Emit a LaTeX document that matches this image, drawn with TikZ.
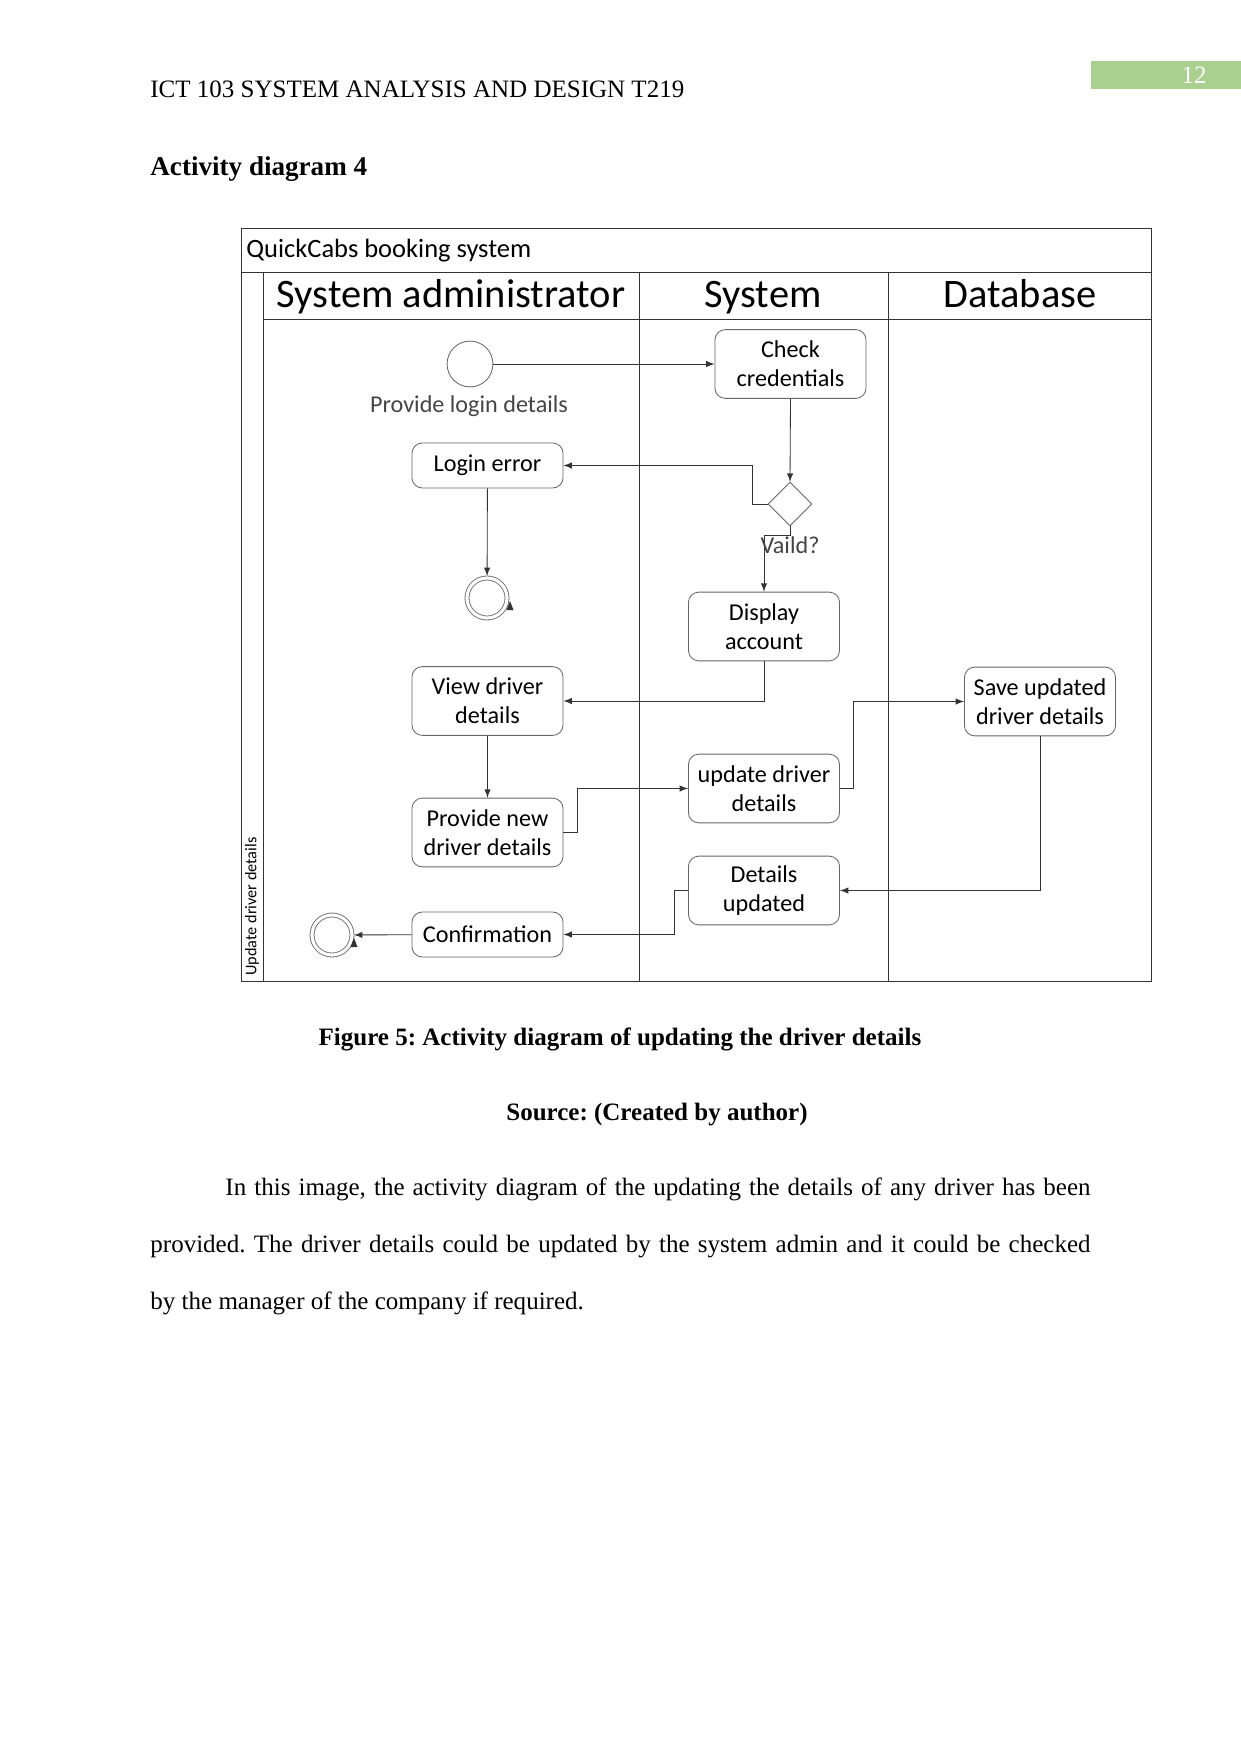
\documentclass[tikz,border=0pt]{standalone}
\usepackage{fontspec}
\setmainfont{Liberation Serif}
\newfontfamily\diagfont{Carlito}
\usetikzlibrary{shapes.geometric,positioning}
\definecolor{pagegreen}{HTML}{A9D08E}
\definecolor{boxline}{HTML}{666666}
\definecolor{laneline}{HTML}{333333}
\definecolor{notetext}{HTML}{444444}
\frenchspacing

\begin{document}
\begin{tikzpicture}[x=0.4797pt,y=-0.4797pt,
  act/.style={draw=boxline, rounded corners=5pt, minimum width=72.5pt, minimum height=33pt,
    align=center, inner sep=1pt, font=\diagfont\fontsize{11.6}{14}\selectfont},
  act1/.style={act, minimum height=21.6pt},
  startnode/.style={circle, draw=boxline, minimum size=22pt, inner sep=0pt},
  endnode/.style={circle, draw=boxline, double, double distance=1.5pt, minimum size=19.2pt,
    inner sep=0pt, outer sep=1pt},
  decision/.style={diamond, draw=boxline, minimum width=21pt, minimum height=21pt, inner sep=0pt},
  note/.style={text=notetext, font=\diagfont\fontsize{11.6}{14}\selectfont},
  lanetitle/.style={anchor=base, inner sep=0pt, font=\diagfont\fontsize{19.4}{23}\selectfont},
  flow/.style={-latex, draw=laneline},
  lane/.style={draw=laneline},
  pagetext/.style={anchor=base west, inner sep=0pt, font=\fontsize{12}{14}\selectfont}]
\useasboundingbox (0,0) rectangle (1241,1754);

% page header
\fill[pagegreen] (1091,61) rectangle (1241,89);
\node[text=white, font=\fontsize{12}{14}\selectfont] (pagenum) at (1194,75) {12};
\node[pagetext] (runhead) at (150,98) {ICT 103 SYSTEM ANALYSIS AND DESIGN T219};
\node[pagetext, font=\fontsize{13}{15}\selectfont\bfseries] (heading) at (150,175) {Activity diagram 4};

% swimlanes
\draw[lane] (241,228) rectangle (1151,981);
\draw[lane] (241,272) -- (1151,272);
\draw[lane] (263,272) -- (263,981);
\draw[lane] (263,319) -- (1151,319);
\draw[lane] (639,272) -- (639,981);
\draw[lane] (888,272) -- (888,981);
\node[anchor=base west, inner sep=0pt, font=\diagfont\fontsize{12.7}{15}\selectfont] (sysname) at (246,257) {QuickCabs booking system};
\node[lanetitle] (admin) at (451,307) {System administrator};
\node[lanetitle] (system) at (763,307) {System};
\node[lanetitle] (database) at (1020,307) {Database};
\node[rotate=90, anchor=west, inner sep=0pt, font=\diagfont\fontsize{7.8}{9}\selectfont] (lanename) at (252,976) {Update driver details};

% activities
\node[startnode] (start) at (470,364) {};
\node[note] (loginnote) at (469,406) {Provide login details};
\node[act] (check) at (790.5,364) {Check\\credentials};
\node[act1] (loginerr) at (487.5,465.5) {Login error};
\node[decision] (valid) at (790,504) {};
\node[endnode] (end1) at (487,598) {};
\node[act] (display) at (764,626.5) {Display\\account};
\node[act] (view) at (487.5,701) {View driver\\details};
\node[act] (save) at (1040,701.5) {Save updated\\driver details};
\node[act] (update) at (764,788.5) {update driver\\details};
\node[act] (provide) at (487.5,832.5) {Provide new\\driver details};
\node[act] (detupd) at (764,890.5) {Details\\updated};
\node[act1] (confirm) at (487.5,934.5) {Confirmation};
\node[endnode] (end2) at (332,935) {};

% flows
\draw[flow] (start) -- (check);
\draw[flow] (check.south) -- (valid.north);
\draw[flow] (valid.west) -- ++(-15,0) |- (loginerr.east);
\draw[flow] (loginerr) -- (end1);
\draw[flow] (valid.south) -- ++(0,9) -| (display.north);
\node[note] (validnote) at (790,545) {Vaild?};
\draw[flow] (display.south) |- (view.east);
\draw[flow] (view) -- (provide);
\draw[flow] (provide.east) -- ++(14,0) |- (update.west);
\draw[flow] (update.east) -- ++(13,0) |- (save.west);
\draw[flow] (save.south) |- (detupd.east);
\draw[flow] (detupd.west) -- ++(-14,0) |- (confirm.east);
\draw[flow] (confirm) -- (end2);
\fill[laneline] (510,601) -- (513.5,610) -- (506.5,610) -- cycle;
\fill[laneline] (354,938) -- (357.5,947) -- (350.5,947) -- cycle;

% caption and text
\node[anchor=base, inner sep=0pt, font=\fontsize{12}{14}\selectfont\bfseries] (caption) at (620,1045) {Figure 5: Activity diagram of updating the driver details};
\node[anchor=base, inner sep=0pt, font=\fontsize{12}{14}\selectfont\bfseries] (source) at (657,1120) {Source: (Created by author)};
\node[anchor=base west, inner sep=0pt, text width=451pt, align=justify, font=\fontsize{12}{27.5}\selectfont] (para) at (150,1195)
  {\hspace*{36pt}In this image, the activity diagram of the updating the details of any driver has been\linebreak
   provided. The driver details could be updated by the system admin and it could be checked\linebreak
   by the manager of the company if required.};
\end{tikzpicture}
\end{document}
